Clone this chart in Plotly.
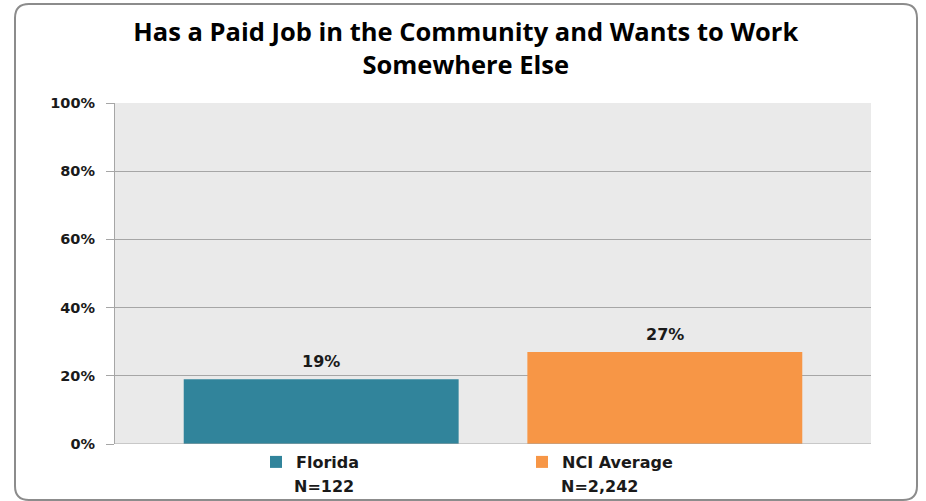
import plotly.graph_objects as go

# valores
groups = ['Florida', 'NCI Average']
sample_sizes = ['N=122', 'N=2,242']
shares = [0.19, 0.27]
bar_colors = ['#31849B', '#F79646']
tick_vals = [0, 0.2, 0.4, 0.6, 0.8, 1.0]
tick_text = ['0%', '20%', '40%', '60%', '80%', '100%']

W, H = 926, 501
L, R, T, B = 115, 55, 103, 57
pw, ph = W - L - R, H - T - B


def px(x):
    return (x - L) / pw


def py(y):
    return (H - B - y) / ph


def rounded_box(x0, y0, x1, y1, r):
    # caixa com cantos arredondados, em coordenadas de papel
    p = ['M', px(x0 + r), py(y0),
         'L', px(x1 - r), py(y0),
         'Q', px(x1), py(y0), px(x1), py(y0 + r),
         'L', px(x1), py(y1 - r),
         'Q', px(x1), py(y1), px(x1 - r), py(y1),
         'L', px(x0 + r), py(y1),
         'Q', px(x0), py(y1), px(x0), py(y1 - r),
         'L', px(x0), py(y0 + r),
         'Q', px(x0), py(y0), px(x0 + r), py(y0), 'Z']
    return ' '.join(v if isinstance(v, str) else f'{v:.5f}' for v in p)


fig = go.Figure()
for i, g in enumerate(groups):
    fig.add_trace(go.Bar(x=[i], y=[shares[i]], name=g, width=0.8,
                         marker=dict(color=bar_colors[i], line=dict(width=0)),
                         legend='legend' if i == 0 else 'legend2',
                         hoverinfo='skip'))
    fig.add_annotation(x=i, y=shares[i], text=f'{shares[i]:.0%}',
                       showarrow=False, yanchor='bottom', yshift=6,
                       font=dict(family='DejaVu Sans', size=16, color='#1a1a1a', weight='bold'))

# N de cada grupo, abaixo da legenda
n_pos = [324, 599]
for i, n in enumerate(sample_sizes):
    fig.add_annotation(xref='paper', yref='paper', x=px(n_pos[i]), y=py(487),
                       text=n, showarrow=False, xanchor='center', yanchor='middle',
                       font=dict(family='DejaVu Sans', size=16, color='#1a1a1a', weight='bold'))

leg_font = dict(family='DejaVu Sans', size=16, color='#1a1a1a', weight='bold')

fig.update_layout(
    width=W, height=H,
    margin=dict(l=L, r=R, t=T, b=B),
    paper_bgcolor='white',
    plot_bgcolor='#EAEAEA',
    title=dict(text='Has a Paid Job in the Community and Wants to Work<br>Somewhere Else',
               x=0.503, xref='container', xanchor='center',
               y=1 - 41 / H, yref='container', yanchor='middle',
               font=dict(family='Open Sans', size=25.5, color='black', weight='bold')),
    xaxis=dict(range=[-0.6, 1.6], showticklabels=False, showgrid=False,
               zeroline=False, showline=False, fixedrange=True),
    yaxis=dict(range=[0, 1], tickvals=tick_vals, ticktext=tick_text,
               showgrid=True, gridcolor='#A6A6A6', gridwidth=1.2,
               showline=True, linecolor='#A6A6A6', linewidth=1.2,
               ticks='outside', ticklen=8, tickcolor='#A6A6A6', tickwidth=1.2,
               zeroline=False, ticklabelstandoff=8,
               tickfont=dict(family='DejaVu Sans', size=14.5, color='#1a1a1a', weight='bold')),
    legend=dict(x=px(256), y=py(462), xanchor='left', yanchor='middle',
                orientation='h', font=leg_font, bgcolor='rgba(0,0,0,0)'),
    legend2=dict(x=px(522), y=py(462), xanchor='left', yanchor='middle',
                 orientation='h', font=leg_font, bgcolor='rgba(0,0,0,0)'),
    showlegend=True,
    shapes=[dict(type='path', xref='paper', yref='paper', layer='below',
                 path=rounded_box(15, 4, 917, 500, 14),
                 line=dict(color='#8C8C8C', width=2), fillcolor='rgba(0,0,0,0)'),
            dict(type='line', xref='paper', yref='y', x0=0, x1=1, y0=0, y1=0,
                 line=dict(color='#A6A6A6', width=1.2))],
)

fig.write_html('out.html', config={'displayModeBar': False},
               post_script="document.body.style.margin='0';")
